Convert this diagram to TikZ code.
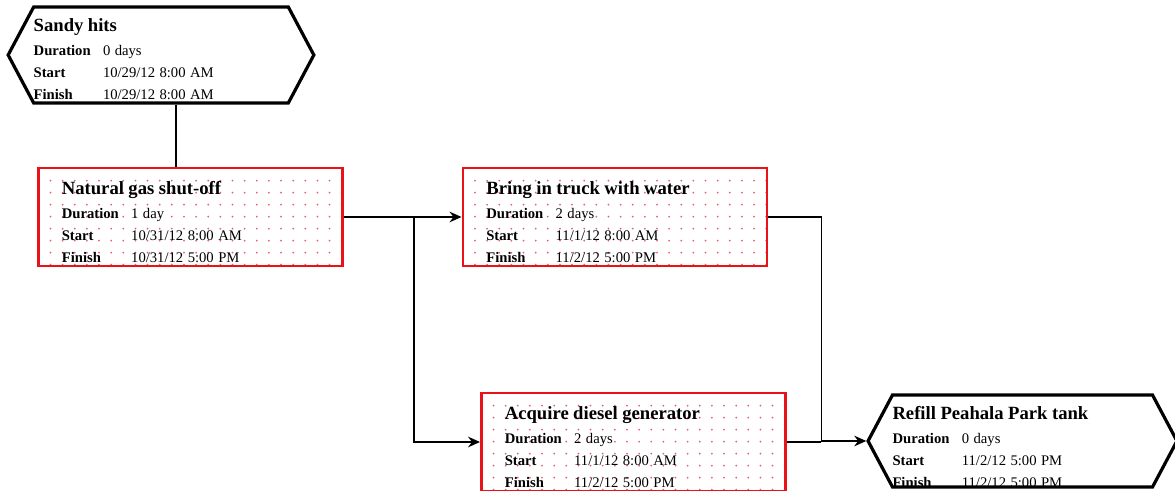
\documentclass[tikz,border=0pt]{standalone}
\usepackage{fontspec}
\setmainfont{Liberation Serif}
\usetikzlibrary{shapes.symbols,arrows.meta}
\definecolor{taskRed}{RGB}{232,18,24}
\definecolor{taskDot}{RGB}{228,96,118}

% one task card: title, then duration / start / finish
\newcommand{\taskinfo}[4]{%
  \noindent\fontsize{11}{16.5}\selectfont
  \begin{tabular}[t]{@{}p{52pt}@{}l@{}}
    \multicolumn{2}{@{}l@{}}{\fontsize{14}{16.5}\selectfont\bfseries #1}\\[1.5pt]
    \textbf{Duration} & #2\\
    \textbf{Start} & #3\\
    \textbf{Finish} & #4
  \end{tabular}}

\begin{document}
\begin{tikzpicture}[x=0.75pt,y=-0.75pt,
  task/.style={draw=taskRed,line width=2.2pt,fill=white,inner xsep=17.5pt,inner ysep=0pt,
    text width=193pt,minimum height=73.5pt,text height=20.25pt,text depth=53.25pt,
    path picture={\foreach \i in {0,...,24}{\foreach \j in {0,...,7}{
      \fill[taskDot] ([xshift=\i*9.1pt+9pt,yshift=-\j*9pt-9.5pt]path picture bounding box.north west) circle (0.75pt);}}}},
  milestone/.style={signal,signal to=west and east,signal pointer angle=124,draw=black,
    line width=2.4pt,fill=white,inner xsep=0pt,inner ysep=0pt,text height=18.75pt},
  link/.style={line width=1pt,-{Stealth[length=9pt,width=8pt]}}]
\useasboundingbox (0,0) rectangle (1175,491);

\node[milestone,text width=191pt,minimum height=72pt,text depth=53.25pt] (sandy) at (161,55)
  {\taskinfo{Sandy hits}{0 days}{10/29/12 8:00 AM}{10/29/12 8:00 AM}};
\node[task] (gas) at (190.5,217)
  {\taskinfo{Natural gas shut-off}{1 day}{10/31/12 8:00 AM}{10/31/12 5:00 PM}};
\node[task] (truck) at (615,217)
  {\taskinfo{Bring in truck with water}{2 days}{11/1/12 8:00 AM}{11/2/12 5:00 PM}};
\node[task] (diesel) at (633.5,442)
  {\taskinfo{Acquire diesel generator}{2 days}{11/1/12 8:00 AM}{11/2/12 5:00 PM}};
\node[milestone,text width=195pt,minimum height=69pt,text depth=50.25pt] (refill) at (1022.5,441)
  {\taskinfo{Refill Peahala Park tank}{0 days}{11/2/12 5:00 PM}{11/2/12 5:00 PM}};

% links
\path (sandy.south) ++(15,0) coordinate (drop);
\draw[line width=1pt] (drop) -- (drop |- gas.north);
\draw[link] (gas.east) -- (truck.west);
\draw[link] (gas.east) -- ++(70,0) |- (diesel.west);
\path (truck.east) ++(53,0) coordinate (join);
\draw[line width=1pt] (diesel.east) -- (diesel.east -| join);
\draw[link] (truck.east) -- (join) |- (refill.west);
\end{tikzpicture}
\end{document}
